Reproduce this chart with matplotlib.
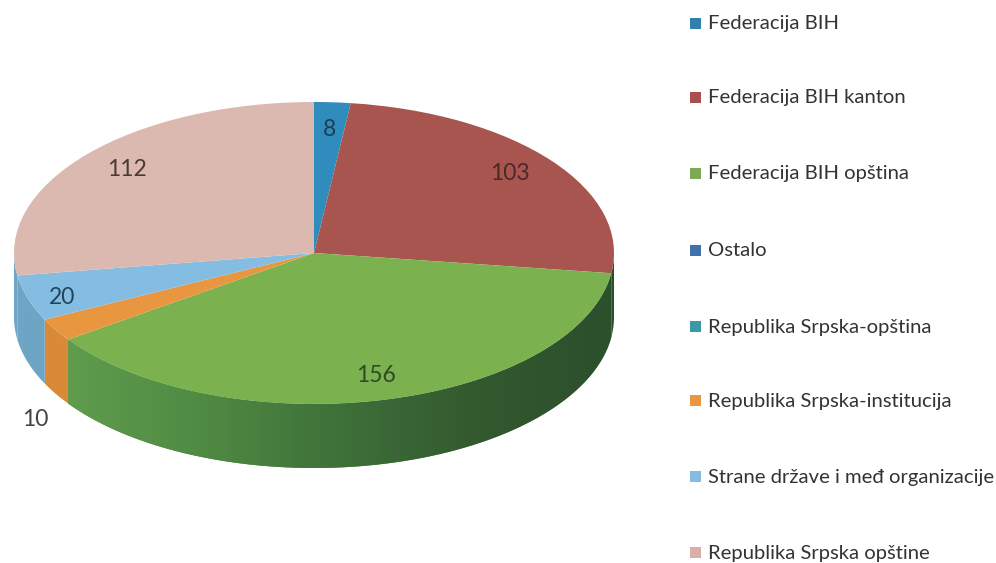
import numpy as np
import matplotlib
matplotlib.use("Agg")
import matplotlib.pyplot as plt
from matplotlib.colors import LinearSegmentedColormap
from matplotlib.patches import Polygon, Rectangle

plt.rcParams['font.family'] = ['Lato', 'DejaVu Sans']

categories = ["Federacija BIH", "Federacija BIH kanton", "Federacija BIH opština", "Ostalo",
              "Republika Srpska-opština", "Republika Srpska-institucija",
              "Strane države i međ organizacije", "Republika Srpska opštine"]
values = [8, 103, 156, 0, 0, 10, 20, 112]
top_colors = ["#2f8cbc", "#a9554f", "#7bb14f", "#3f71ad", "#3a9aa8", "#e8963f", "#85bde2", "#dcb9b0"]
wall_colors = ["#24688c", "#2c4f2c", "#4d8a40", "#2f5480", "#2b7480", "#d98a38", "#6ea5c5", "#6ea5c5"]
legend_colors = ["#2f80ad", "#a8504e", "#7dab55", "#3f71ad", "#3a9aa8", "#e8963f", "#85bde2", "#d8b0a8"]

W, H = 996, 563
CX, CY, RX, RY, DEPTH = 314, 253, 300, 151, 64
def px(x): return (x - CX) / RX
def py(y): return (CY - y) / RY

fig = plt.figure(figsize=(W / 100, H / 100), dpi=100, facecolor="white")
ax = fig.add_axes([0, 0, 1, 1])

depth = DEPTH / RY
vals = np.array(values, float)
edges = np.concatenate([[0], np.cumsum(vals)]) / vals.sum() * 2 * np.pi

def wall_polygon(a0, a1):
    t = np.linspace(a0, a1, 200)
    xs, ys = np.sin(t), np.cos(t)
    upper = np.column_stack([xs, ys])
    lower = np.column_stack([xs, ys - depth])[::-1]
    return np.vstack([upper, lower])

# side wall of every slice that faces the viewer
for i in range(len(values)):
    a0, a1 = edges[i], edges[i + 1]
    a0v, a1v = max(a0, np.pi / 2), min(a1, 3 * np.pi / 2)
    if a1v <= a0v:
        continue
    poly = Polygon(wall_polygon(a0v, a1v), closed=True, facecolor=wall_colors[i], edgecolor="none", zorder=1)
    ax.add_patch(poly)
    if i == 2:
        cmap = LinearSegmentedColormap.from_list("g", ["#5f9c4c", "#4f8a43", "#3e7039", "#33592f", "#2c4f2c"])
        grad = np.linspace(0, 1, 256)[None, :]
        im = ax.imshow(grad, extent=[np.sin(a1v), 1.0, -1.6, 1], cmap=cmap, aspect="auto", zorder=1.5)
        clip = Polygon(wall_polygon(a0v, a1v), closed=True, transform=ax.transData)
        im.set_clip_path(clip)

# top face
ax.pie(values, colors=top_colors, startangle=90, counterclock=False, radius=1,
       wedgeprops=dict(linewidth=0, zorder=2))
ax.set_aspect("auto")
ax.set_xlim(px(0), px(W))
ax.set_ylim(py(H), py(0))
ax.axis("off")

# data labels
label_pos = {0: (329, 130), 1: (510, 174), 2: (376, 375), 5: (35, 420), 6: (62, 297), 7: (127, 170)}
label_col = {0: "#1d3f55", 1: "#4a2a28", 2: "#2f4a28", 5: "#444444", 6: "#1d4560", 7: "#4a3a36"}
for i, (x, y) in label_pos.items():
    ax.text(px(x), py(y), str(values[i]), ha="center", va="center", fontsize=16.5,
            color=label_col[i], zorder=5)

# legend
legend_y = [24, 98, 174, 251, 327, 401, 477, 553]
for name, col, y in zip(categories, legend_colors, legend_y):
    fig.add_artist(Rectangle((690 / W, 1 - (y + 5) / H), 11 / W, 11 / H, transform=fig.transFigure,
                             facecolor=col, edgecolor="none"))
    fig.text(708 / W, 1 - y / H, name, ha="left", va="center", fontsize=14.6, color="#333333")

fig.savefig("out.png", dpi=100)
